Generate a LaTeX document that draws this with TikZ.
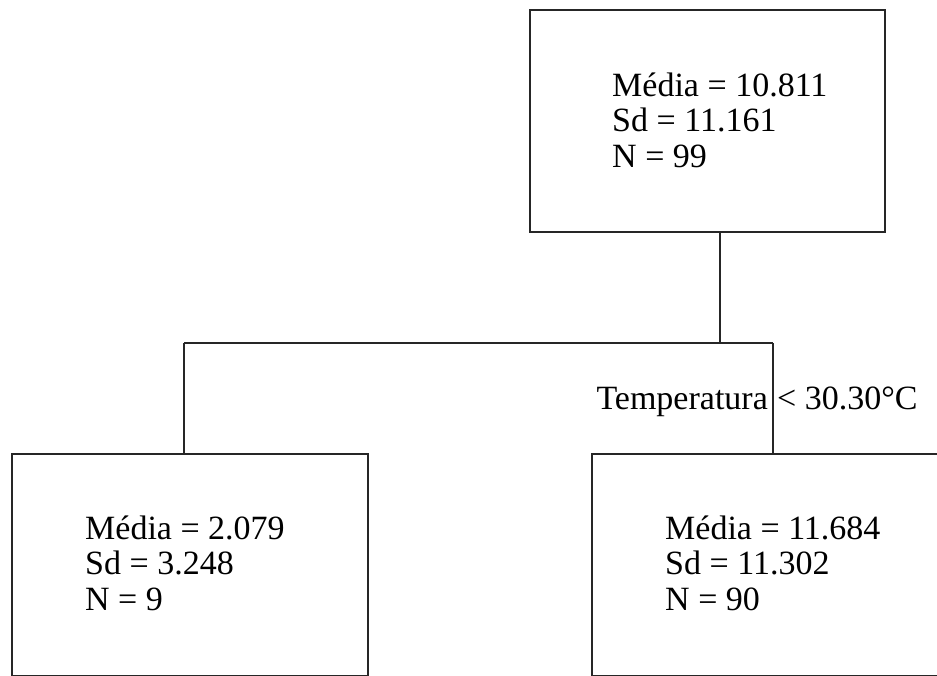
\documentclass[tikz,border=0pt]{standalone}
\usepackage{fontspec}
\setmainfont{Liberation Serif}
\begin{document}
\begin{tikzpicture}[x=1pt,y=1pt,
  box/.style={draw=black!85, line width=1.8pt, fill=none},
  link/.style={draw=black!85, line width=1.6pt},
  stats/.style={inner sep=0pt, align=left, anchor=base west, font=\fontsize{34}{35.5}\selectfont},
  cond/.style={inner sep=0pt, font=\fontsize{34}{35.5}\selectfont}]
\useasboundingbox (0,0) rectangle (937,-675);
\clip (0,0) rectangle (937,-675);
% boxes
\node[box, inner sep=0pt, minimum width=355pt, minimum height=222pt, anchor=north west] (root) at (529,-9) {};
\node[box, inner sep=0pt, minimum width=356pt, minimum height=222pt, anchor=north west] (left) at (11,-453) {};
\node[box, inner sep=0pt, minimum width=370pt, minimum height=222pt, anchor=north west] (right) at (591,-453) {};
% texts
\node[stats] (troot) at (612,-167) {Média = 10.811\\Sd = 11.161\\N = 99};
\node[stats] (tleft) at (85,-610) {Média = 2.079\\Sd = 3.248\\N = 9};
\node[stats] (tright) at (665,-610) {Média = 11.684\\Sd = 11.302\\N = 90};
% connectors
\coordinate (split) at (720,-343);
\coordinate (lx) at (184,-343);
\coordinate (rx) at (773,-343);
\draw[link] (root.south -| split) -- (split);
\draw[link] (lx) -- (rx);
\draw[link] (lx) -- (left.north -| lx);
\draw[link] (rx) -- (right.north -| rx);
% condition label
\node[cond, anchor=base east] (condl) at (768,-409) {Temperatura};
\node[cond, anchor=base west] (condr) at (777,-409) {< 30.30°C};
\end{tikzpicture}
\end{document}
